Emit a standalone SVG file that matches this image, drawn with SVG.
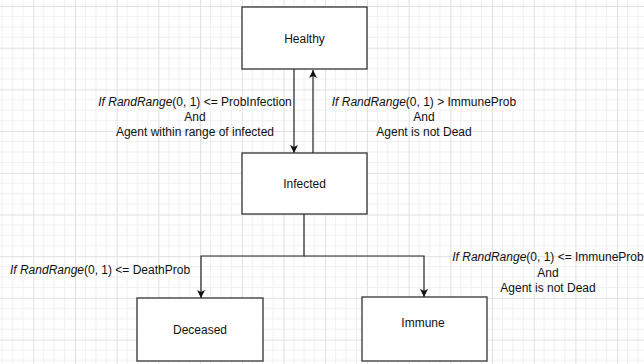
<svg xmlns="http://www.w3.org/2000/svg" width="644" height="364" viewBox="0 0 644 364">
<style>
.node rect{fill:#fff;stroke:#333;stroke-width:1.3}
text{font-family:"Liberation Sans",Arial,sans-serif;font-size:12px;fill:#111}
.c{text-anchor:middle}
.i{font-style:italic}
.edge{fill:none;stroke:#222;stroke-width:1.2}
</style>
<defs>
<pattern id="grid" patternUnits="userSpaceOnUse" x="33.3" y="6" width="41.7" height="41.7">
<path d="M10.42 0V41.7M20.85 0V41.7M31.27 0V41.7M0 10.42H41.7M0 20.85H41.7M0 31.27H41.7" fill="none" stroke="#f0f0f0" stroke-width="1"/>
<path d="M0 0.5H41.7M0.5 0V41.7" fill="none" stroke="#e0e0e0" stroke-width="1"/>
</pattern>
<marker id="arr" viewBox="0 0 10 10" refX="10" refY="5" markerWidth="8" markerHeight="8" markerUnits="userSpaceOnUse" orient="auto">
<path d="M0 0L10 5L0 10L2.5 5Z" fill="#111"/>
</marker>
</defs>
<rect width="644" height="364" fill="#fff"/>
<rect width="644" height="364" fill="url(#grid)"/>

<g id="connectors">
<path class="edge" d="M294 69V153" marker-end="url(#arr)"/>
<path class="edge" d="M313 153V70" marker-end="url(#arr)"/>
<path class="edge" d="M304 214V256H201V298" marker-end="url(#arr)"/>
<path class="edge" d="M304 256H424V297" marker-end="url(#arr)"/>
</g>

<g id="node-healthy" class="node">
<rect x="242" y="7" width="125" height="62"/>
<text class="c" x="304.5" y="43">Healthy</text>
</g>
<g id="node-infected" class="node">
<rect x="242" y="153" width="125" height="61"/>
<text class="c" x="304.5" y="188">Infected</text>
</g>
<g id="node-deceased" class="node">
<rect x="137" y="298" width="126" height="63"/>
<text class="c" x="200" y="334">Deceased</text>
</g>
<g id="node-immune" class="node">
<rect x="362" y="297" width="125" height="64"/>
<text class="c" x="423" y="327">Immune</text>
</g>

<g id="labels">
<text class="c" x="195" y="106"><tspan class="i">If RandRange</tspan>(0, 1) &lt;= ProbInfection</text>
<text class="c" x="195" y="121">And</text>
<text class="c" x="195" y="136">Agent within range of infected</text>

<text class="c" x="424" y="106"><tspan class="i">If RandRange</tspan>(0, 1) &gt; ImmuneProb</text>
<text class="c" x="424" y="121">And</text>
<text class="c" x="424" y="136">Agent is not Dead</text>

<text class="c" x="100" y="274"><tspan class="i">If RandRange</tspan>(0, 1) &lt;= DeathProb</text>

<text class="c" x="548" y="261"><tspan class="i">If RandRange</tspan>(0, 1) &lt;= ImmuneProb</text>
<text class="c" x="548" y="277">And</text>
<text class="c" x="548" y="292">Agent is not Dead</text>
</g>
</svg>
